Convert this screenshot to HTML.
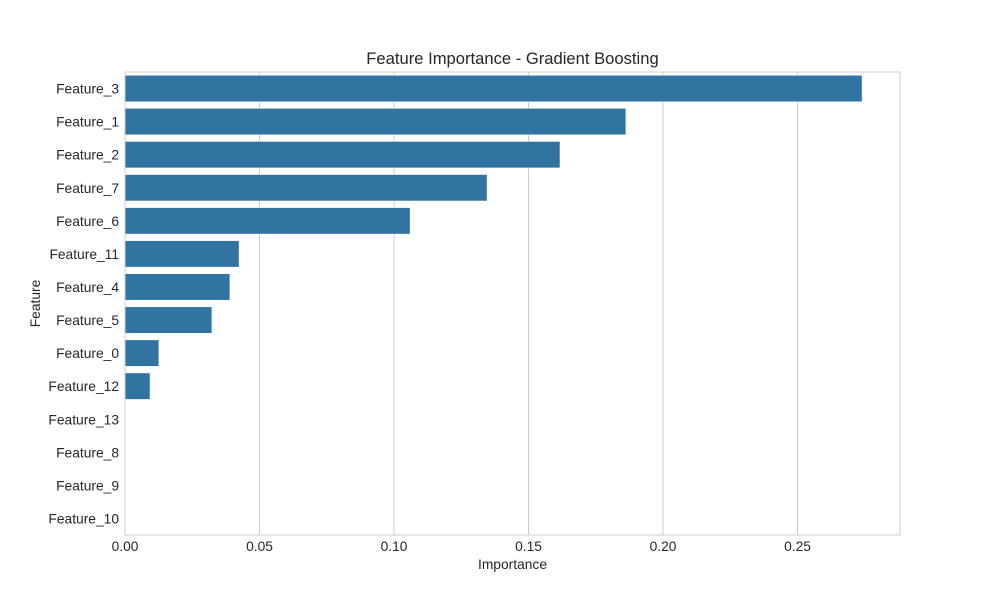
<!DOCTYPE html>
<html><head><meta charset="utf-8"><style>
body{margin:0;background:#fff;}
text{font-family:"Liberation Sans",Arial,sans-serif;fill:#262626;}
</style></head><body>
<svg id="chart" width="1000" height="600" xmlns="http://www.w3.org/2000/svg"></svg>
<script>
const categories=["Feature_3","Feature_1","Feature_2","Feature_7","Feature_6","Feature_11","Feature_4","Feature_5","Feature_0","Feature_12","Feature_13","Feature_8","Feature_9","Feature_10"];
const values=[0.274,0.1862,0.1617,0.1346,0.106,0.0424,0.039,0.0323,0.0126,0.0093,0,0,0,0];
const xTicks=[0,0.05,0.10,0.15,0.20,0.25];
const xTickLabels=["0.00","0.05","0.10","0.15","0.20","0.25"];
const L=125,R=900,T=72,B=535,XMAX=0.2881;
const FS=13.8;
const svg=document.getElementById('chart');
const NS="http://www.w3.org/2000/svg";
function xs(v){return L+v/XMAX*(R-L);}
const band=(B-T)/categories.length;
function yc(i){return T+band*(i+0.5);}
function mk(tag,attrs,parent){const e=document.createElementNS(NS,tag);for(const k in attrs)e.setAttribute(k,attrs[k]);(parent||svg).appendChild(e);return e;}
const grid=mk('g',{});


xTicks.forEach((t,i)=>{
  const g=mk('line',{x1:xs(t),x2:xs(t),y1:T,y2:B,stroke:'#cccccc','stroke-width':1},grid);
  
  
  const tx=mk('text',{x:xs(t),y:B+16,'text-anchor':'middle','font-size':FS});
  tx.textContent=xTickLabels[i];
  
  
});
categories.forEach((c,i)=>{
  const w=xs(values[i])-xs(0);
  if(w>0){
    const r=mk('rect',{x:xs(0),y:yc(i)-band*0.4,width:w,height:band*0.8,fill:'#3274a1',stroke:'#ffffff','stroke-width':0.5});
    
    
  }
  const tx=mk('text',{x:L-6,y:yc(i)+5,'text-anchor':'end','font-size':FS});
  tx.textContent=c;
  
  
});
const frame=mk('rect',{x:L,y:T,width:R-L,height:B-T,fill:'none',stroke:'#cccccc','stroke-width':1});


const title=mk('text',{x:(L+R)/2,y:64,'text-anchor':'middle','font-size':16.6});
title.textContent='Feature Importance - Gradient Boosting';


const xt=mk('text',{x:(L+R)/2,y:569,'text-anchor':'middle','font-size':FS});
xt.textContent='Importance';


const yt=mk('text',{x:0,y:0,'text-anchor':'middle','font-size':FS,transform:'translate(40,'+((T+B)/2)+') rotate(-90)'});
yt.textContent='Feature';


</script>
</body></html>
